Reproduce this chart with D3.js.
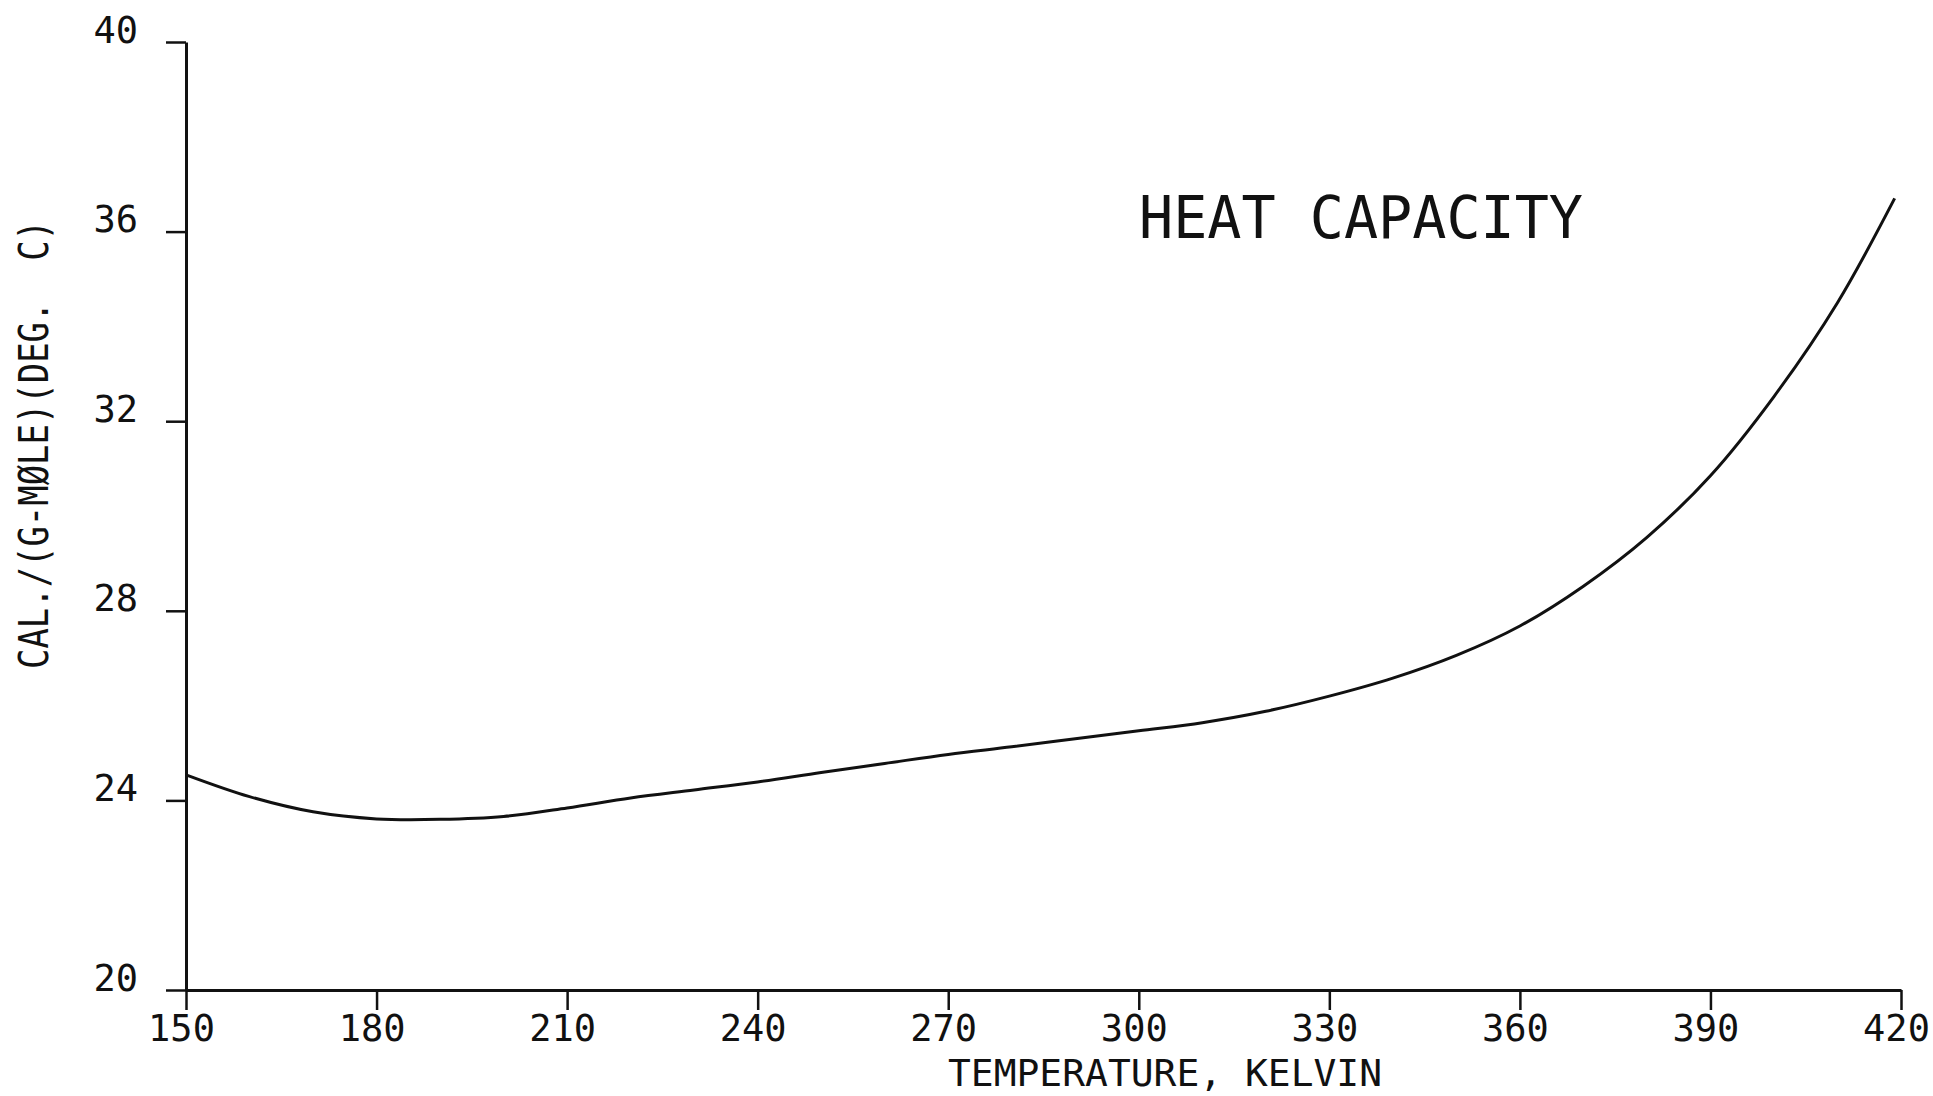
<!DOCTYPE html>
<html>
<head>
<meta charset="utf-8">
<script src="https://cdn.jsdelivr.net/npm/d3@7/dist/d3.min.js"></script>
<style>
  html, body { margin: 0; padding: 0; background: #fff; }
  svg { display: block; }
  text { font-family: "DejaVu Sans Mono", monospace; fill: #111; white-space: pre; }
</style>
</head>
<body>
<svg id="chart" width="1933" height="1096"></svg>
<script>
// Heat capacity vs temperature
const temperature = [150, 160, 170, 180, 190, 200, 210, 220, 230, 240, 250, 260, 270, 280, 290,
                     300, 310, 320, 330, 340, 350, 360, 370, 380, 390, 400, 410, 419];
const heatCapacity = [24.54, 24.08, 23.76, 23.61, 23.60, 23.66, 23.84, 24.05, 24.22, 24.39, 24.59,
                      24.78, 24.97, 25.13, 25.30, 25.47, 25.64, 25.88, 26.20, 26.58, 27.06, 27.68,
                      28.52, 29.55, 30.85, 32.52, 34.50, 36.70];
const xTicks = [150, 180, 210, 240, 270, 300, 330, 360, 390, 420];
const yTicks = [20, 24, 28, 32, 36, 40];

const chartTitle = "HEAT CAPACITY";
const xTitle = "TEMPERATURE, KELVIN";
const yTitle = "CAL./(G-M\u00D8LE)(DEG.  C)";

const svg = d3.select("#chart");
const plotLeft = 186, plotRight = 1901, plotTop = 42, plotBottom = 990;

const x = d3.scaleLinear().domain([150, 420]).range([plotLeft, plotRight]);
const y = d3.scaleLinear().domain([20, 40]).range([plotBottom, plotTop]);

const ink = "#111";

// x axis: ticks hang below the baseline
const gx = svg.append("g")
  .attr("transform", `translate(0,${plotBottom})`)
  .call(d3.axisBottom(x).tickValues(xTicks).tickSize(20).tickSizeOuter(0).tickFormat(d3.format("d")));
gx.select(".domain").attr("stroke", ink).attr("stroke-width", 3);
gx.selectAll(".tick line").attr("stroke", ink).attr("stroke-width", 2.5);
gx.selectAll(".tick text")
  .attr("x", -5).attr("y", 51).attr("dy", 0)
  .style("font-size", "37px").attr("fill", ink);

// y axis: ticks point left, labels sit on the tick line
const gy = svg.append("g")
  .attr("transform", `translate(${plotLeft},0)`)
  .call(d3.axisLeft(y).tickValues(yTicks).tickSize(20).tickSizeOuter(0).tickFormat(d3.format("d")));
gy.select(".domain").attr("stroke", ink).attr("stroke-width", 3);
gy.selectAll(".tick line").attr("stroke", ink).attr("stroke-width", 2.5);
gy.selectAll(".tick text")
  .attr("x", -48).attr("dy", 0)
  .style("font-size", "37px").attr("fill", ink);
gx.attr("font-family", null).attr("font-size", null);
gy.attr("font-family", null).attr("font-size", null);

// the curve
const line = d3.line()
  .x((d, i) => x(temperature[i]))
  .y(d => y(d))
  .curve(d3.curveCatmullRom.alpha(0.5));

svg.append("path")
  .datum(heatCapacity)
  .attr("d", line)
  .attr("fill", "none")
  .attr("stroke", ink)
  .attr("stroke-width", 3)
  .attr("stroke-linejoin", "round");

// titles
svg.append("text")
  .attr("x", 1139).attr("y", 238)
  .attr("textLength", 444).attr("lengthAdjust", "spacingAndGlyphs")
  .style("font-size", "58px")
  .text(chartTitle);

svg.append("text")
  .attr("x", 948).attr("y", 1086)
  .attr("textLength", 434).attr("lengthAdjust", "spacingAndGlyphs")
  .style("font-size", "38px")
  .text(xTitle);

svg.append("text")
  .attr("transform", "translate(48,669) rotate(-90)")
  .attr("x", 0).attr("y", 0)
  .attr("textLength", 449).attr("lengthAdjust", "spacingAndGlyphs")
  .style("font-size", "41px")
  .text(yTitle);
</script>
</body>
</html>
